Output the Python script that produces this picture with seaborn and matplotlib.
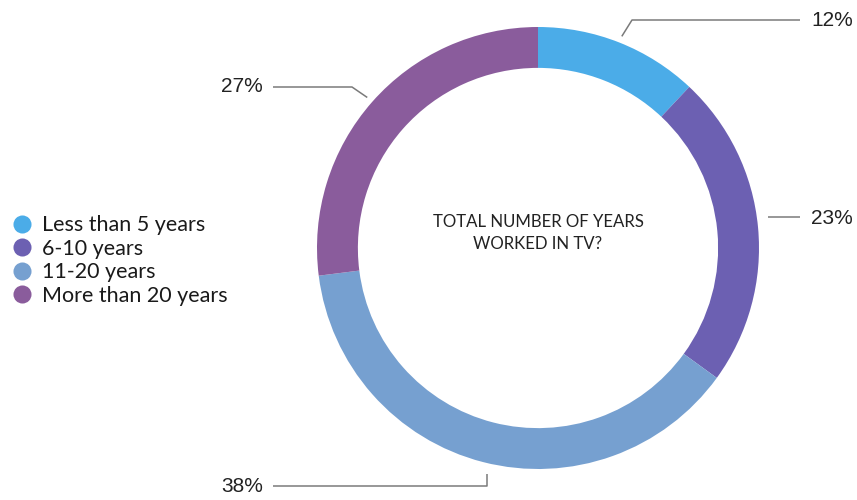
import matplotlib.pyplot as plt
from matplotlib.lines import Line2D
import seaborn as sns
import numpy as np

# data
categories = ['Less than 5 years', '6-10 years', '11-20 years', 'More than 20 years']
shares = [12, 23, 38, 27]
colors = ['#4BACE8', '#6C60B2', '#76A0D0', '#8A5C9C']
center_title = 'TOTAL NUMBER OF YEARS\nWORKED IN TV?'

sns.set_theme(style='white')
plt.rcParams['font.family'] = ['Lato', 'DejaVu Sans']

fig = plt.figure(figsize=(8.57, 5), dpi=100)
ax = fig.add_axes([0, 0, 1, 1])

wedges, _ = ax.pie(shares, colors=colors, startangle=90, counterclock=False,
                   radius=1, wedgeprops=dict(width=0.185, linewidth=0))

# pixel-matched view: centre at (538, 248), radius 221 px
s = 221.0
ax.set_xlim(-538 / s, (857 - 538) / s)
ax.set_ylim((248 - 500) / s, 248 / s)
ax.set_aspect('auto')
ax.axis('off')


def px(x, y):
    return (x - 538) / s, (248 - y) / s


ax.text(0, px(0, 233)[1], center_title, ha='center', va='center', fontsize=12.1,
        color='#222222', linespacing=1.45)

# leader lines: (elbow point, label-end point, text pos, ha)
leaders = [
    (px(632, 20), px(800, 20), px(811, 21), 'left'),
    (px(768, 217), px(800, 217), px(811, 218), 'left'),
    (px(487, 486), px(273, 486), px(263, 487), 'right'),
    (px(352, 87), px(273, 87), px(263, 87), 'right'),
]
line_col = '#7a7a7a'
for w, val, (elb, end, tpos, ha) in zip(wedges, shares, leaders):
    ang = np.deg2rad((w.theta1 + w.theta2) / 2)
    ax0 = 1.03 * np.cos(ang)
    ay0 = 1.03 * np.sin(ang)
    if val == 38:
        ax0 = elb[0]
        ay0 = px(0, 474)[1]
    if val == 23:
        ax0 = px(768, 0)[0]
        ay0 = elb[1]
    ax.plot([ax0, elb[0], end[0]], [ay0, elb[1], end[1]], color=line_col, lw=1.1,
            solid_capstyle='butt')
    ax.text(tpos[0], tpos[1], f'{val}%', ha=ha, va='center', fontsize=15,
            family=['Liberation Sans', 'DejaVu Sans'], color='#222222')

handles = [Line2D([0], [0], marker='o', linestyle='', markersize=13,
                  markerfacecolor=c, markeredgewidth=0) for c in colors]
fig.legend(handles, categories, loc='center left', bbox_to_anchor=(0.016, 0.479),
           frameon=False, fontsize=15.5, handlelength=0.8, handletextpad=0.5,
           labelspacing=0.16, borderpad=0, borderaxespad=0, labelcolor='#1a1a1a')

fig.savefig('out.png', dpi=100)
